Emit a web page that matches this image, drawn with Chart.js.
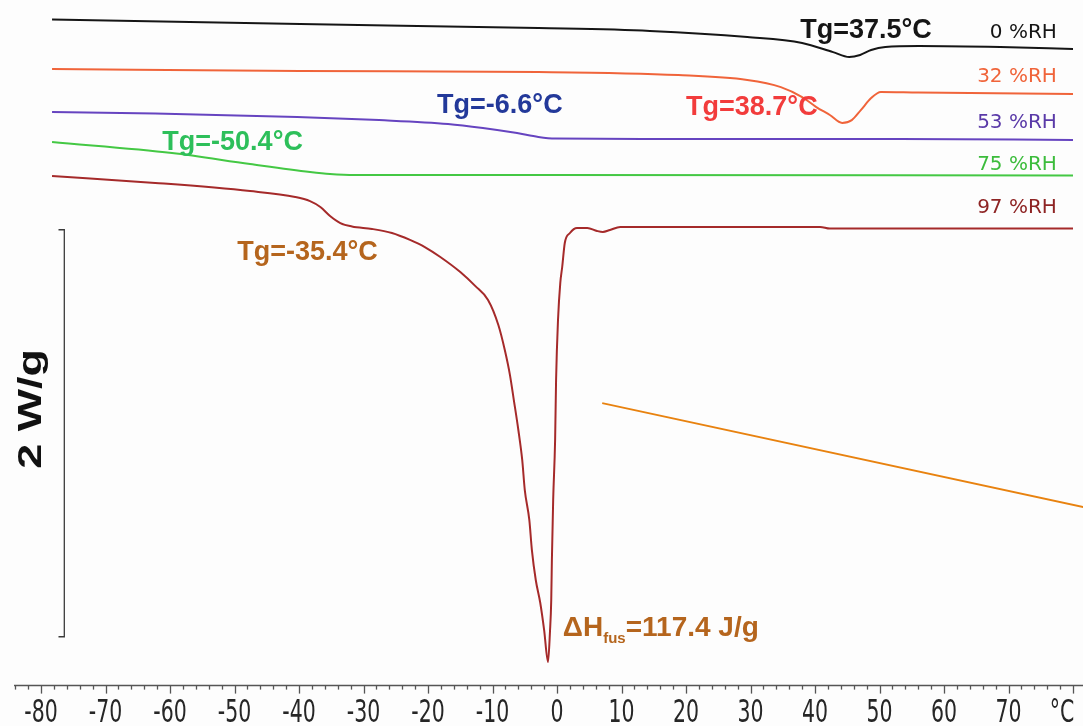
<!DOCTYPE html>
<html>
<head>
<meta charset="utf-8">
<title>DSC thermograms</title>
<script src="https://cdn.jsdelivr.net/npm/chart.js@4.4.0/dist/chart.umd.min.js"></script>
<style>
  html, body { margin: 0; padding: 0; background: #fdfdfd; }
  #wrap { width: 1083px; height: 726px; }
</style>
</head>
<body>
<div id="wrap"><canvas id="dsc"></canvas></div>
<script>
//-----------------------------------------------------------------------------
// Data: temperature (°C) vs heat flow (W/g), each trace offset, endo down
//-----------------------------------------------------------------------------

var temp0 = [-78.3, -39.8, -2.9, 14.4, 29.5, 38.0, 42.8, 45.3, 47.0, 48.7, 50.9, 56.1, 68.7, 80.0];
var flow0 = [3.273, 3.251, 3.231, 3.217, 3.187, 3.158, 3.113, 3.089, 3.099, 3.123, 3.138, 3.143, 3.138, 3.128];

var temp32 = [-78.3, -39.8, -2.9, 18.8, 29.5, 34.7, 38.0, 40.2, 42.3, 44.2, 45.7, 47.1, 48.7, 50.2, 56.0, 80.0];
var flow32 = [3.030, 3.020, 3.015, 3.000, 2.976, 2.941, 2.892, 2.843, 2.804, 2.765, 2.779, 2.828, 2.887, 2.917, 2.914, 2.907];

var temp53 = [-78.3, -62.3, -40.3, -27.6, -16.9, -11.5, -6.2, -2.9, -0.3, 13.3, 53.2, 80.0];
var flow53 = [2.819, 2.811, 2.794, 2.779, 2.760, 2.740, 2.715, 2.696, 2.688, 2.686, 2.686, 2.681];

var temp75 = [-78.3, -59.7, -47.6, -38.3, -35.2, -31.3, -2.9, 80.0];
var flow75 = [2.671, 2.617, 2.563, 2.524, 2.514, 2.509, 2.509, 2.507];

var temp97 = [-78.3, -62.3, -47.6, -40.6, -38.3, -36.7, -35.2, -33.6, -31.8, -28.7,
              -25.6, -22.8, -20.5, -18.1, -15.0, -12.7, -10.7, -9.1, -8.1, -7.3,
              -6.7, -6.0, -5.4, -5.0, -4.3, -3.9, -3.3, -2.6, -2.0, -1.4,
              -1.1, -0.9, -0.8, -0.6, -0.3, -0.15, 0.15, 0.5, 0.8, 1.2,
              2.0, 3.1, 4.7, 6.2, 7.1, 8.2, 9.8, 22.2, 40.8, 42.3, 80.0];
var flow97 = [2.504, 2.470, 2.430, 2.401, 2.381, 2.352, 2.308, 2.273, 2.256, 2.244,
              2.224, 2.190, 2.155, 2.106, 2.032, 1.964, 1.895, 1.772, 1.649, 1.526,
              1.403, 1.256, 1.109, 0.961, 0.814, 0.666, 0.519, 0.406, 0.273, 0.116,
              0.263, 0.421, 0.617, 0.912, 1.207, 1.502, 1.797, 1.978, 2.057, 2.175,
              2.224, 2.249, 2.249, 2.234, 2.229, 2.239, 2.254, 2.254, 2.254, 2.246, 2.246];

// 2 W/g scale bar
var barTemp = [-77.3, -76.4, -76.4, -77.3];
var barFlow = [2.24, 2.24, 0.24, 0.24];
var barCaption = { text: '2 W/g', t: -80.0, f: 1.36 };

// straight orange stroke across the lower right
var strokeTemp = [7.0, 81.6];
var strokeFlow = [1.388, 0.877];

var tickTemps = [-80, -70, -60, -50, -40, -30, -20, -10, 0, 10, 20, 30, 40, 50, 60, 70];
var unitLabel = '°C';

var rhLabels = ['0 %RH', '32 %RH', '53 %RH', '75 %RH', '97 %RH'];
var rhColors = ['#151515', '#f0643a', '#5a3aa8', '#3cbc3c', '#8e2424'];
var rhFlow   = [3.182, 2.966, 2.740, 2.534, 2.322];

var traceColors = ['#151515', '#f0643a', '#6644c0', '#44c844', '#a52a2a'];

// annotation anchors (left edge / baseline, in data units)
var notes = [
  { text: 'Tg=37.5°C',  t: 37.7,  f: 3.180, color: '#151515' },
  { text: 'Tg=38.7°C',  t: 20.0,  f: 2.804, color: '#f23c3c' },
  { text: 'Tg=-6.6°C',  t: -18.6, f: 2.814, color: '#23399a' },
  { text: 'Tg=-50.4°C', t: -61.2, f: 2.632, color: '#2dbf5a' },
  { text: 'Tg=-35.4°C', t: -49.6, f: 2.091, color: '#b5651d' }
];
var fusionNote = { t: 0.9, f: 0.244, color: '#b5651d' };


// Helpers
//-----------------------------------------------------------------------------

var toPoints = function(xs, ys) {
  return xs.map(function(x, i) { return { x: x, y: ys[i] }; });
};

var trace = function(xs, ys, color) {
  return {
    data: toPoints(xs, ys),
    borderColor: color,
    borderWidth: 2,
    pointRadius: 0,
    cubicInterpolationMode: 'monotone',
    fill: false
  };
};

function $each(list, fn) {
  for (var i = 0; i < list.length; i++) fn(list[i], i);
}


// Axis, labels and annotations
//-----------------------------------------------------------------------------

var axisPlugin = {
  id: 'dscAxis',
  afterDraw: function(chart) {
    var ctx = chart.ctx,
        xs = chart.scales.x,
        area = chart.chartArea,
        y0 = area.bottom;

    ctx.save();
    ctx.strokeStyle = '#555';
    ctx.lineWidth = 1.5;
    ctx.beginPath();
    ctx.moveTo(area.left, y0);
    ctx.lineTo(area.right, y0);
    ctx.stroke();

    // minor ticks every 2 °C, long ones every 10 °C
    ctx.lineWidth = 1.3;
    for (var t = -84; t <= 80; t += 2) {
      var px = Math.round(xs.getPixelForValue(t)) + 0.5;
      var len = (t % 10 === 0) ? 8 : 4;
      ctx.beginPath();
      ctx.moveTo(px, y0);
      ctx.lineTo(px, y0 + len);
      ctx.stroke();
    }

    // tick labels are drawn narrow
    ctx.fillStyle = '#262626';
    ctx.font = '32px "DejaVu Sans"';
    ctx.textAlign = 'center';
    ctx.textBaseline = 'alphabetic';
    $each(tickTemps.concat([78.3]), function(t, i) {
      var label = i < tickTemps.length ? String(t) : unitLabel;
      ctx.save();
      ctx.translate(xs.getPixelForValue(t), y0 + 36.5);
      ctx.scale(0.64, 1);
      ctx.fillText(label, 0, 0);
      ctx.restore();
    });
    ctx.restore();
  }
};

var notesPlugin = {
  id: 'dscNotes',
  afterDatasetsDraw: function(chart) {
    var ctx = chart.ctx,
        xs = chart.scales.x,
        ys = chart.scales.y;

    ctx.save();
    ctx.textBaseline = 'alphabetic';

    // Tg notes
    ctx.textAlign = 'left';
    ctx.font = 'bold 27px "Liberation Sans", Arial, sans-serif';
    $each(notes, function(n) {
      ctx.fillStyle = n.color;
      ctx.fillText(n.text, xs.getPixelForValue(n.t), ys.getPixelForValue(n.f));
    });

    // enthalpy of fusion, with subscript
    var fx = xs.getPixelForValue(fusionNote.t),
        fy = ys.getPixelForValue(fusionNote.f);
    ctx.fillStyle = fusionNote.color;
    ctx.font = 'bold 28px "Liberation Sans", Arial, sans-serif';
    ctx.fillText('ΔH', fx, fy);
    fx += ctx.measureText('ΔH').width;
    ctx.font = 'bold 15px "Liberation Sans", Arial, sans-serif';
    ctx.fillText('fus', fx, fy + 7);
    fx += ctx.measureText('fus').width;
    ctx.font = 'bold 28px "Liberation Sans", Arial, sans-serif';
    ctx.fillText('=117.4 J/g', fx, fy);

    // humidity labels on the right
    ctx.textAlign = 'right';
    ctx.font = '20px "DejaVu Sans"';
    $each(rhLabels, function(label, i) {
      ctx.fillStyle = rhColors[i];
      ctx.fillText(label, xs.getPixelForValue(77.5), ys.getPixelForValue(rhFlow[i]));
    });

    // scale bar caption, rotated and stretched along its length
    ctx.translate(xs.getPixelForValue(barCaption.t), ys.getPixelForValue(barCaption.f));
    ctx.rotate(-Math.PI / 2);
    ctx.scale(1.32, 1);
    ctx.textAlign = 'center';
    ctx.fillStyle = '#111';
    ctx.font = 'bold 34px "Liberation Sans", Arial, sans-serif';
    ctx.fillText(barCaption.text, 0, 0);
    ctx.restore();
  }
};


// Chart
//-----------------------------------------------------------------------------

var datasets = [
  trace(temp0, flow0, traceColors[0]),
  trace(temp32, flow32, traceColors[1]),
  trace(temp53, flow53, traceColors[2]),
  trace(temp75, flow75, traceColors[3]),
  trace(temp97, flow97, traceColors[4]),
  {
    data: toPoints(barTemp, barFlow),
    borderColor: '#3a3a3a',
    borderWidth: 1.3,
    pointRadius: 0,
    tension: 0
  },
  {
    data: toPoints(strokeTemp, strokeFlow),
    borderColor: '#e8820f',
    borderWidth: 2,
    pointRadius: 0,
    tension: 0
  }
];

new Chart(document.getElementById('dsc'), {
  type: 'line',
  data: { datasets: datasets },
  options: {
    responsive: true,
    maintainAspectRatio: false,
    animation: false,
    layout: { padding: { left: 14, right: 0, top: 0, bottom: 40.4 } },
    scales: {
      x: { type: 'linear', min: -84.2, max: 81.55, display: false },
      y: { type: 'linear', min: 0, max: 3.369, display: false }
    },
    plugins: {
      legend: { display: false },
      tooltip: { enabled: false }
    }
  },
  plugins: [axisPlugin, notesPlugin]
});
</script>
</body>
</html>
